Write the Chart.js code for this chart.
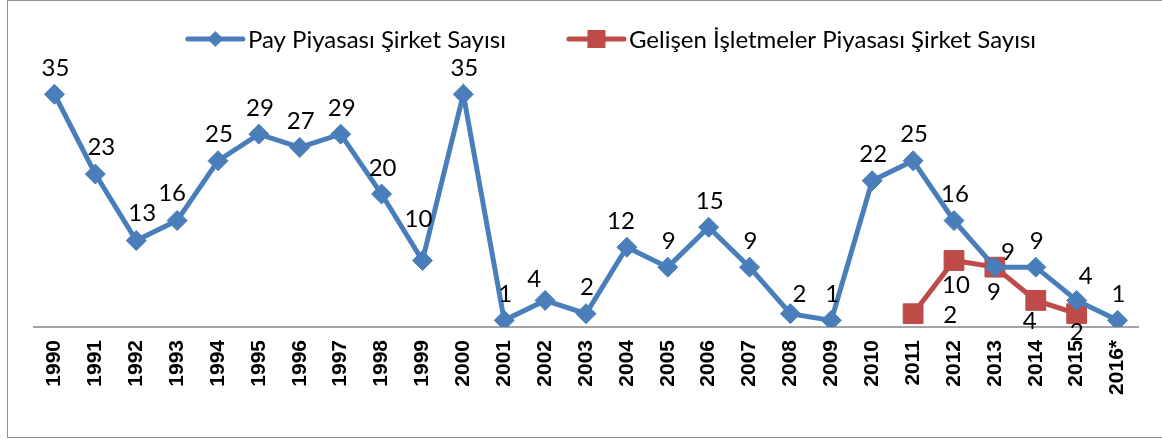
<!DOCTYPE html>
<html>
<head>
<meta charset="utf-8">
<title>Şirket Sayısı</title>
<script src="https://cdn.jsdelivr.net/npm/chart.js@4.4.0/dist/chart.umd.min.js"></script>
<style>
  body { margin: 0; background: #ffffff; }
  #frame { position: absolute; left: 7px; top: 0px; width: 1160px; height: 436px; border: 1px solid #8e8e8e; }
  #wrap { position: absolute; left: 0; top: 0; width: 1162px; height: 439px; }
</style>
</head>
<body>
<div id="frame"></div>
<div id="wrap"><canvas id="myChart"></canvas></div>
<script>
// data
var years = ['1990','1991','1992','1993','1994','1995','1996','1997','1998','1999','2000',
             '2001','2002','2003','2004','2005','2006','2007','2008','2009','2010',
             '2011','2012','2013','2014','2015','2016*'];
var payCounts = [35, 23, 13, 16, 25, 29, 27, 29, 20, 10, 35,
                 1, 4, 2, 12, 9, 15, 9, 2, 1, 22,
                 25, 16, 9, 9, 4, 1];
var gipCounts = [null, null, null, null, null, null, null, null, null, null, null,
                 null, null, null, null, null, null, null, null, null, null,
                 2, 10, 9, 4, 2, null];
var seriesNames = ['Pay Piyasası Şirket Sayısı', 'Gelişen İşletmeler Piyasası Şirket Sayısı'];

var BLUE = '#4A7EBB';
var RED = '#BE4B48';
var FONT = 'Lato';

// where each value label sits relative to its point (dx, dy)
var payShift = { 1: [6, -27], 2: [6, -27], 3: [-5, -27], 9: [-4, -41], 12: [-11, -21],
                 14: [-6, -26], 18: [9, -19], 23: [13, -15], 25: [9, -24] };
var gipShift = { 21: [37, 2], 22: [2, 25], 23: [-1, 25], 24: [-6, 21], 25: [0, 19] };

var valueLabels = {
    id: 'valueLabels',
    afterDatasetsDraw: function(chart) {
        var ctx = chart.ctx;
        ctx.save();
        ctx.font = '24px ' + FONT;
        ctx.fillStyle = '#000';
        ctx.textAlign = 'center';
        ctx.textBaseline = 'middle';
        chart.data.datasets.forEach(function(ds, di) {
            var meta = chart.getDatasetMeta(di);
            meta.data.forEach(function(pt, i) {
                var v = ds.data[i];
                if (v === null || v === undefined) return;
                var s;
                if (di === 0) s = payShift[i] || [1, -26];
                else s = gipShift[i] || [0, 25];
                ctx.fillText(String(v), pt.x + s[0], pt.y + s[1]);
            });
        });
        ctx.restore();
    }
};

var lineLegend = {
    id: 'lineLegend',
    afterDraw: function(chart) {
        var ctx = chart.ctx;
        ctx.save();
        ctx.font = '24px ' + FONT;
        ctx.textBaseline = 'middle';
        var lineW = 55, gapText = 5, gapItem = 63, y = 39;
        var widths = seriesNames.map(function(n) { return ctx.measureText(n).width; });
        var total = lineW * 2 + gapText * 2 + widths[0] + widths[1] + gapItem;
        var x = 612 - total / 2;
        [BLUE, RED].forEach(function(col, k) {
            ctx.strokeStyle = col;
            ctx.fillStyle = col;
            ctx.lineWidth = 5;
            ctx.lineCap = 'round';
            ctx.beginPath();
            ctx.moveTo(x, y);
            ctx.lineTo(x + lineW, y);
            ctx.stroke();
            var cx = x + lineW / 2;
            ctx.beginPath();
            if (k === 0) {
                ctx.moveTo(cx - 8, y); ctx.lineTo(cx, y - 8);
                ctx.lineTo(cx + 8, y); ctx.lineTo(cx, y + 8);
            } else {
                ctx.rect(cx - 9, y - 9, 18, 18);
            }
            ctx.closePath();
            ctx.fill();
            ctx.fillStyle = '#000';
            ctx.fillText(seriesNames[k], x + lineW + gapText, y + 1);
            x += lineW + gapText + widths[k] + gapItem;
        });
        ctx.restore();
    }
};

var ctx = document.getElementById('myChart').getContext('2d');
var chart = new Chart(ctx, {
    type: 'line',
    data: {
        labels: years,
        datasets: [{
            label: seriesNames[0],
            data: payCounts,
            borderColor: BLUE,
            backgroundColor: BLUE,
            borderWidth: 5,
            pointStyle: 'rectRot',
            pointRadius: 10,
            pointBorderWidth: 1,
            pointBorderColor: BLUE,
            pointBackgroundColor: BLUE,
            tension: 0,
            fill: false
        },
        {
            label: seriesNames[1],
            data: gipCounts,
            borderColor: RED,
            backgroundColor: RED,
            borderWidth: 5,
            pointStyle: 'rect',
            pointRadius: 14,
            pointBorderWidth: 1,
            pointBorderColor: RED,
            pointBackgroundColor: RED,
            tension: 0,
            fill: false
        }]
    },
    options: {
        responsive: true,
        maintainAspectRatio: false,
        animation: false,
        layout: { padding: { left: 34, right: 24, top: 61, bottom: 0 } },
        plugins: {
            legend: { display: false },
            tooltip: { enabled: false }
        },
        scales: {
            x: {
                offset: true,
                grid: { display: false, drawTicks: false },
                border: { display: true, color: '#a3a3a3', width: 2 },
                ticks: {
                    color: '#000',
                    font: { family: "'Liberation Sans', Arial, sans-serif", size: 21, weight: 'bold' },
                    minRotation: 90,
                    maxRotation: 90,
                    padding: 13,
                    autoSkip: false
                },
                afterFit: function(scale) { scale.height = 112; }
            },
            y: {
                display: false,
                min: 0,
                max: 40
            }
        }
    },
    plugins: [valueLabels, lineLegend]
});
</script>
</body>
</html>
